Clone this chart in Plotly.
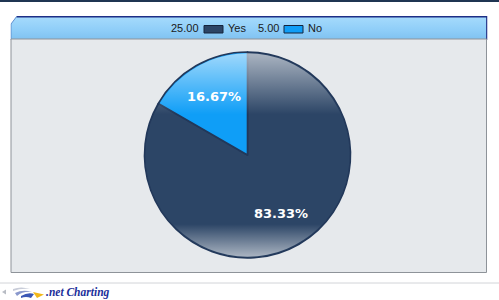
import base64
import math
import plotly.graph_objects as go

# Survey answers
labels = ["Yes", "No"]
values = [25, 5]
colors = ["#2c4566", "#0f9ef7"]

W, H = 499, 300


def px(x):
    return x / W


def py(y):
    return 1 - y / H


def svg_uri(svg):
    return "data:image/svg+xml;base64," + base64.b64encode(svg.encode()).decode()


# pie placement (pixels)
cx, cy, r = 247.5, 155, 103

fig = go.Figure()
fig.add_trace(go.Pie(
    labels=labels,
    values=values,
    sort=False,
    direction="clockwise",
    rotation=0,
    marker=dict(colors=colors, line=dict(color="#22385a", width=1.6)),
    textinfo="none",
    showlegend=False,
    hoverinfo="label+value+percent",
    domain=dict(x=[px(cx - r), px(cx + r)], y=[py(cy + r), py(cy - r)]),
))

annotations = []

# percentage labels at each slice's mid-angle
total = sum(values)
start = 0.0
for v in values:
    frac = v / total
    mid = 2 * math.pi * (start + frac / 2)
    rho = 0.66 * r
    lx = cx + rho * math.sin(mid)
    ly = cy - rho * math.cos(mid)
    annotations.append(dict(text=f"{frac * 100:.2f}%", x=px(lx), y=py(ly), xref="paper", yref="paper",
                            xanchor="center", yanchor="middle", showarrow=False,
                            font=dict(family="DejaVu Sans", size=13, color="white", weight="bold")))
    start += frac

# gloss on the pie
gloss = (
    '<svg xmlns="http://www.w3.org/2000/svg" viewBox="0 0 100 100" width="100" height="100">'
    '<defs><linearGradient id="g" x1="0" y1="0" x2="0" y2="1">'
    '<stop offset="0" stop-color="white" stop-opacity="0.6"/>'
    '<stop offset="0.3" stop-color="white" stop-opacity="0"/>'
    '<stop offset="0.84" stop-color="white" stop-opacity="0"/>'
    '<stop offset="1" stop-color="white" stop-opacity="0.6"/>'
    '</linearGradient></defs>'
    '<circle cx="50" cy="50" r="49.4" fill="url(#g)"/></svg>'
)

# header bar with bevelled corner
header = (
    '<svg xmlns="http://www.w3.org/2000/svg" viewBox="0 0 477 24" width="477" height="24" preserveAspectRatio="none">'
    '<defs><linearGradient id="h" x1="0" y1="0" x2="0" y2="1">'
    '<stop offset="0" stop-color="#a6dbfc"/>'
    '<stop offset="0.6" stop-color="#8ecdf8"/>'
    '<stop offset="1" stop-color="#7fc1f0"/>'
    '</linearGradient></defs>'
    '<path d="M0.5,8 L6,0.5 L476,0.5 L476,24 L0.5,24 Z" fill="url(#h)" stroke="none"/>'
    '<path d="M6,0.7 L476.3,0.7 L476.3,24" fill="none" stroke="#1d2f86" stroke-width="1.4"/>'
    '<path d="M0.5,24 L0.5,8 L6,0.7" fill="none" stroke="#5f8fd0" stroke-width="1"/>'
    '</svg>'
)

# footer logo mark
logo = (
    '<svg xmlns="http://www.w3.org/2000/svg" viewBox="0 0 46 14" width="46" height="14">'
    '<path d="M2,7 L6,4.5 L6,9.5 Z" fill="#b8bcc4"/>'
    '<path d="M13,4 Q21,1 30,4 Q21,3 13,6 Z" fill="#c8ccd8"/>'
    '<path d="M15,8 Q23,4 32,7 Q23,6 17,11 Z" fill="#8a98cc"/>'
    '<path d="M21,11 Q28,7 34,9 L31,13 Q26,11 21,13 Z" fill="#3b57b5"/>'
    '<path d="M33,7 L44,9.5 L37,13 Z" fill="#f2b81a"/>'
    '</svg>'
)

shapes = [
    # top rule
    dict(type="rect", xref="paper", yref="paper", x0=0, x1=1, y0=py(2), y1=1,
         fillcolor="#1f3552", line=dict(width=0), layer="below"),
    # chart body
    dict(type="rect", xref="paper", yref="paper", x0=px(11), x1=px(486.5), y0=py(272.5), y1=py(39),
         fillcolor="#e6e9ec", line=dict(color="#8e9399", width=1), layer="below"),
    # footer rule
    dict(type="line", xref="paper", yref="paper", x0=0, x1=1, y0=py(283), y1=py(283),
         line=dict(color="#d2d4d8", width=1), layer="below"),
]

images = [
    dict(source=svg_uri(header), xref="paper", yref="paper", x=px(10.5), y=py(16),
         sizex=px(477), sizey=24 / H, xanchor="left", yanchor="top", sizing="stretch", layer="below"),
    dict(source=svg_uri(gloss), xref="paper", yref="paper", x=px(cx - r), y=py(cy - r),
         sizex=px(2 * r), sizey=2 * r / H, xanchor="left", yanchor="top", sizing="stretch", layer="above"),
    dict(source=svg_uri(logo), xref="paper", yref="paper", x=px(0), y=py(285),
         sizex=px(46), sizey=14 / H, xanchor="left", yanchor="top", sizing="stretch", layer="above"),
]

# legend in the header: value, swatch, label
legend_font = dict(family="Liberation Sans, Arial", size=11, color="#1a1a1a")
value_right = [198.5, 278.5]
swatch_x = [204, 284]
label_x = [228, 308]
for lab, val, col, vx, sx, lx in zip(labels, values, colors, value_right, swatch_x, label_x):
    annotations.append(dict(text=f"{val:.2f}", x=px(vx + 2), y=py(28.5), xref="paper", yref="paper",
                            xanchor="right", yanchor="middle", showarrow=False, font=legend_font))
    annotations.append(dict(text=lab, x=px(lx - 2), y=py(28.5), xref="paper", yref="paper",
                            xanchor="left", yanchor="middle", showarrow=False, font=legend_font))
    shapes.append(dict(type="rect", xref="paper", yref="paper", x0=px(sx), x1=px(sx + 19),
                       y0=py(33), y1=py(25.5), fillcolor=col, line=dict(color="#14243d", width=1)))

annotations.append(dict(text="<b><i>.net Charting</i></b>", x=px(44), y=py(292), xref="paper", yref="paper",
                        xanchor="left", yanchor="middle", showarrow=False,
                        font=dict(family="Liberation Sans Narrow, Arial Narrow", size=11.5, color="#1c2f9a")))

fig.update_layout(
    width=W, height=H,
    margin=dict(l=0, r=0, t=0, b=0),
    paper_bgcolor="white",
    plot_bgcolor="white",
    shapes=shapes,
    images=images,
    annotations=annotations,
)

fig.write_html("out.html", config={"displayModeBar": False})
